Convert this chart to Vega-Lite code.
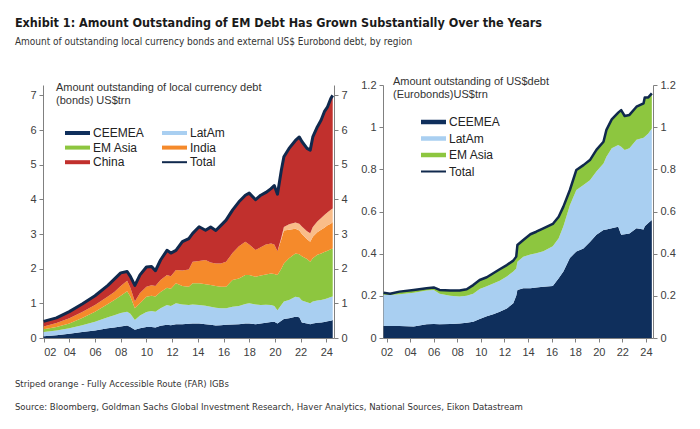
{
  "$schema": "https://vega.github.io/schema/vega-lite/v6.json",
  "padding": {"left": 14, "top": 16, "right": 10, "bottom": 5},
  "background": "white",
  "title": {
    "text": "Exhibit 1: Amount Outstanding of EM Debt Has Grown Substantially Over the Years",
    "subtitle": "Amount of outstanding local currency bonds and external US$ Eurobond debt, by region",
    "anchor": "start", "frame": "bounds", "offset": 29,
    "font": "DejaVu Sans Condensed", "fontSize": 12.5, "fontWeight": "bold", "color": "#1a1a1a",
    "subtitleFont": "DejaVu Sans Condensed", "subtitleFontSize": 10, "subtitleColor": "#333333", "subtitlePadding": 8
  },
  "datasets": {
    "lc": [
      {"d":2002.0,"CEEMEA":0.05,"LatAm":0.12,"EM Asia":0.08,"India":0.08,"FAR":0,"China":0.15},
      {"d":2003.0,"CEEMEA":0.08,"LatAm":0.14,"EM Asia":0.10,"India":0.11,"FAR":0,"China":0.15},
      {"d":2004.0,"CEEMEA":0.12,"LatAm":0.16,"EM Asia":0.14,"India":0.15,"FAR":0,"China":0.19},
      {"d":2005.0,"CEEMEA":0.17,"LatAm":0.20,"EM Asia":0.21,"India":0.17,"FAR":0,"China":0.23},
      {"d":2006.0,"CEEMEA":0.22,"LatAm":0.25,"EM Asia":0.29,"India":0.19,"FAR":0,"China":0.27},
      {"d":2007.0,"CEEMEA":0.28,"LatAm":0.32,"EM Asia":0.38,"India":0.22,"FAR":0,"China":0.32},
      {"d":2007.5,"CEEMEA":0.30,"LatAm":0.36,"EM Asia":0.44,"India":0.23,"FAR":0,"China":0.37},
      {"d":2008.0,"CEEMEA":0.33,"LatAm":0.39,"EM Asia":0.50,"India":0.28,"FAR":0,"China":0.38},
      {"d":2008.5,"CEEMEA":0.36,"LatAm":0.40,"EM Asia":0.59,"India":0.30,"FAR":0,"China":0.27},
      {"d":2008.75,"CEEMEA":0.32,"LatAm":0.38,"EM Asia":0.50,"India":0.25,"FAR":0,"China":0.33},
      {"d":2009.1,"CEEMEA":0.24,"LatAm":0.28,"EM Asia":0.34,"India":0.19,"FAR":0,"China":0.47},
      {"d":2009.5,"CEEMEA":0.28,"LatAm":0.37,"EM Asia":0.35,"India":0.30,"FAR":0,"China":0.52},
      {"d":2010.0,"CEEMEA":0.32,"LatAm":0.43,"EM Asia":0.44,"India":0.29,"FAR":0,"China":0.57},
      {"d":2010.4,"CEEMEA":0.32,"LatAm":0.46,"EM Asia":0.44,"India":0.30,"FAR":0,"China":0.54},
      {"d":2010.7,"CEEMEA":0.30,"LatAm":0.46,"EM Asia":0.44,"India":0.30,"FAR":0,"China":0.44},
      {"d":2011.1,"CEEMEA":0.35,"LatAm":0.51,"EM Asia":0.47,"India":0.34,"FAR":0,"China":0.58},
      {"d":2011.6,"CEEMEA":0.38,"LatAm":0.57,"EM Asia":0.50,"India":0.37,"FAR":0,"China":0.71},
      {"d":2011.9,"CEEMEA":0.37,"LatAm":0.55,"EM Asia":0.50,"India":0.36,"FAR":0,"China":0.67},
      {"d":2012.3,"CEEMEA":0.40,"LatAm":0.60,"EM Asia":0.58,"India":0.38,"FAR":0,"China":0.57},
      {"d":2012.8,"CEEMEA":0.40,"LatAm":0.57,"EM Asia":0.53,"India":0.45,"FAR":0,"China":0.83},
      {"d":2013.3,"CEEMEA":0.41,"LatAm":0.54,"EM Asia":0.53,"India":0.50,"FAR":0,"China":0.89},
      {"d":2013.6,"CEEMEA":0.42,"LatAm":0.55,"EM Asia":0.61,"India":0.62,"FAR":0,"China":0.82},
      {"d":2014.1,"CEEMEA":0.42,"LatAm":0.53,"EM Asia":0.63,"India":0.64,"FAR":0,"China":0.99},
      {"d":2014.6,"CEEMEA":0.40,"LatAm":0.53,"EM Asia":0.62,"India":0.70,"FAR":0,"China":0.86},
      {"d":2015.0,"CEEMEA":0.38,"LatAm":0.52,"EM Asia":0.63,"India":0.65,"FAR":0,"China":1.02},
      {"d":2015.4,"CEEMEA":0.36,"LatAm":0.51,"EM Asia":0.63,"India":0.65,"FAR":0,"China":0.95},
      {"d":2015.8,"CEEMEA":0.37,"LatAm":0.49,"EM Asia":0.62,"India":0.67,"FAR":0,"China":1.10},
      {"d":2016.2,"CEEMEA":0.38,"LatAm":0.48,"EM Asia":0.62,"India":0.72,"FAR":0,"China":1.20},
      {"d":2016.7,"CEEMEA":0.39,"LatAm":0.51,"EM Asia":0.77,"India":0.78,"FAR":0,"China":1.24},
      {"d":2017.2,"CEEMEA":0.40,"LatAm":0.52,"EM Asia":0.80,"India":0.93,"FAR":0,"China":1.28},
      {"d":2017.7,"CEEMEA":0.42,"LatAm":0.56,"EM Asia":0.84,"India":0.96,"FAR":0,"China":1.34},
      {"d":2018.0,"CEEMEA":0.42,"LatAm":0.58,"EM Asia":0.82,"India":0.88,"FAR":0,"China":1.48},
      {"d":2018.5,"CEEMEA":0.40,"LatAm":0.57,"EM Asia":0.80,"India":0.77,"FAR":0,"China":1.45},
      {"d":2018.9,"CEEMEA":0.42,"LatAm":0.53,"EM Asia":0.85,"India":0.82,"FAR":0,"China":1.50},
      {"d":2019.3,"CEEMEA":0.44,"LatAm":0.52,"EM Asia":0.87,"India":0.87,"FAR":0,"China":1.50},
      {"d":2019.7,"CEEMEA":0.46,"LatAm":0.49,"EM Asia":0.91,"India":0.87,"FAR":0,"China":1.58},
      {"d":2019.95,"CEEMEA":0.47,"LatAm":0.45,"EM Asia":0.93,"India":0.85,"FAR":0,"China":1.70},
      {"d":2020.2,"CEEMEA":0.42,"LatAm":0.38,"EM Asia":1.02,"India":0.68,"FAR":0,"China":1.65},
      {"d":2020.5,"CEEMEA":0.50,"LatAm":0.45,"EM Asia":1.05,"India":0.85,"FAR":0.05,"China":1.94},
      {"d":2020.7,"CEEMEA":0.55,"LatAm":0.50,"EM Asia":1.10,"India":0.95,"FAR":0.10,"China":2.03},
      {"d":2021.1,"CEEMEA":0.57,"LatAm":0.53,"EM Asia":1.20,"India":0.82,"FAR":0.16,"China":2.19},
      {"d":2021.6,"CEEMEA":0.61,"LatAm":0.58,"EM Asia":1.25,"India":0.71,"FAR":0.18,"China":2.37},
      {"d":2021.9,"CEEMEA":0.60,"LatAm":0.57,"EM Asia":1.25,"India":0.68,"FAR":0.20,"China":2.50},
      {"d":2022.1,"CEEMEA":0.45,"LatAm":0.63,"EM Asia":1.28,"India":0.64,"FAR":0.22,"China":2.45},
      {"d":2022.5,"CEEMEA":0.42,"LatAm":0.61,"EM Asia":1.25,"India":0.57,"FAR":0.23,"China":2.39},
      {"d":2022.75,"CEEMEA":0.40,"LatAm":0.60,"EM Asia":1.20,"India":0.58,"FAR":0.24,"China":2.40},
      {"d":2022.95,"CEEMEA":0.42,"LatAm":0.63,"EM Asia":1.25,"India":0.62,"FAR":0.28,"China":2.60},
      {"d":2023.3,"CEEMEA":0.44,"LatAm":0.64,"EM Asia":1.32,"India":0.65,"FAR":0.31,"China":2.73},
      {"d":2023.6,"CEEMEA":0.45,"LatAm":0.65,"EM Asia":1.34,"India":0.68,"FAR":0.34,"China":2.83},
      {"d":2023.85,"CEEMEA":0.46,"LatAm":0.66,"EM Asia":1.36,"India":0.70,"FAR":0.37,"China":2.98},
      {"d":2024.1,"CEEMEA":0.48,"LatAm":0.67,"EM Asia":1.37,"India":0.73,"FAR":0.38,"China":3.04},
      {"d":2024.35,"CEEMEA":0.50,"LatAm":0.68,"EM Asia":1.38,"India":0.74,"FAR":0.40,"China":3.21},
      {"d":2024.5,"CEEMEA":0.52,"LatAm":0.68,"EM Asia":1.38,"India":0.77,"FAR":0.39,"China":3.26}
    ],
    "fx": [
      {"d":2001.75,"CEEMEA":0.057,"LatAm":0.148,"EM Asia":0.010},
      {"d":2002.3,"CEEMEA":0.057,"LatAm":0.147,"EM Asia":0.006},
      {"d":2003.1,"CEEMEA":0.057,"LatAm":0.151,"EM Asia":0.012},
      {"d":2004.3,"CEEMEA":0.055,"LatAm":0.160,"EM Asia":0.013},
      {"d":2005.4,"CEEMEA":0.065,"LatAm":0.160,"EM Asia":0.011},
      {"d":2006.0,"CEEMEA":0.066,"LatAm":0.162,"EM Asia":0.012},
      {"d":2006.5,"CEEMEA":0.065,"LatAm":0.145,"EM Asia":0.018},
      {"d":2007.4,"CEEMEA":0.066,"LatAm":0.134,"EM Asia":0.025},
      {"d":2008.2,"CEEMEA":0.069,"LatAm":0.128,"EM Asia":0.028},
      {"d":2008.8,"CEEMEA":0.072,"LatAm":0.128,"EM Asia":0.031},
      {"d":2009.35,"CEEMEA":0.077,"LatAm":0.133,"EM Asia":0.041},
      {"d":2009.9,"CEEMEA":0.090,"LatAm":0.142,"EM Asia":0.043},
      {"d":2010.5,"CEEMEA":0.103,"LatAm":0.142,"EM Asia":0.043},
      {"d":2011.05,"CEEMEA":0.113,"LatAm":0.145,"EM Asia":0.049},
      {"d":2011.6,"CEEMEA":0.125,"LatAm":0.147,"EM Asia":0.054},
      {"d":2012.2,"CEEMEA":0.140,"LatAm":0.152,"EM Asia":0.054},
      {"d":2012.75,"CEEMEA":0.165,"LatAm":0.150,"EM Asia":0.052},
      {"d":2013.0,"CEEMEA":0.200,"LatAm":0.130,"EM Asia":0.056},
      {"d":2013.1,"CEEMEA":0.228,"LatAm":0.134,"EM Asia":0.079},
      {"d":2013.6,"CEEMEA":0.236,"LatAm":0.149,"EM Asia":0.080},
      {"d":2014.2,"CEEMEA":0.236,"LatAm":0.160,"EM Asia":0.096},
      {"d":2014.7,"CEEMEA":0.240,"LatAm":0.162,"EM Asia":0.102},
      {"d":2015.3,"CEEMEA":0.243,"LatAm":0.169,"EM Asia":0.108},
      {"d":2016.1,"CEEMEA":0.247,"LatAm":0.188,"EM Asia":0.106},
      {"d":2016.6,"CEEMEA":0.283,"LatAm":0.190,"EM Asia":0.102},
      {"d":2017.0,"CEEMEA":0.315,"LatAm":0.215,"EM Asia":0.093},
      {"d":2017.55,"CEEMEA":0.380,"LatAm":0.250,"EM Asia":0.072},
      {"d":2018.1,"CEEMEA":0.410,"LatAm":0.292,"EM Asia":0.095},
      {"d":2018.7,"CEEMEA":0.425,"LatAm":0.301,"EM Asia":0.094},
      {"d":2019.25,"CEEMEA":0.455,"LatAm":0.293,"EM Asia":0.096},
      {"d":2019.8,"CEEMEA":0.490,"LatAm":0.300,"EM Asia":0.102},
      {"d":2020.4,"CEEMEA":0.512,"LatAm":0.316,"EM Asia":0.103},
      {"d":2020.65,"CEEMEA":0.515,"LatAm":0.345,"EM Asia":0.127},
      {"d":2021.1,"CEEMEA":0.520,"LatAm":0.380,"EM Asia":0.137},
      {"d":2021.65,"CEEMEA":0.528,"LatAm":0.387,"EM Asia":0.154},
      {"d":2021.9,"CEEMEA":0.490,"LatAm":0.417,"EM Asia":0.174},
      {"d":2022.2,"CEEMEA":0.492,"LatAm":0.400,"EM Asia":0.161},
      {"d":2022.6,"CEEMEA":0.496,"LatAm":0.404,"EM Asia":0.158},
      {"d":2023.2,"CEEMEA":0.520,"LatAm":0.420,"EM Asia":0.157},
      {"d":2023.8,"CEEMEA":0.515,"LatAm":0.435,"EM Asia":0.163},
      {"d":2023.9,"CEEMEA":0.530,"LatAm":0.425,"EM Asia":0.186},
      {"d":2024.2,"CEEMEA":0.545,"LatAm":0.425,"EM Asia":0.171},
      {"d":2024.5,"CEEMEA":0.560,"LatAm":0.434,"EM Asia":0.166}
    ]
  },
  "vconcat": [
    {
      "title": {
        "text": ["Striped orange - Fully Accessible Route (FAR) IGBs", "Source: Bloomberg, Goldman Sachs Global Investment Research, Haver Analytics, National Sources, Eikon Datastream"],
        "orient": "bottom", "anchor": "start", "frame": "bounds", "dx": -15, "offset": 22, "lineHeight": 22.5,
        "font": "DejaVu Sans Condensed", "fontSize": 9.5, "fontWeight": "normal", "color": "#333333"
      },
      "spacing": 12,
      "resolve": {"scale": {"color": "independent", "x": "independent", "y": "independent"}, "legend": {"color": "independent"}},
      "hconcat": [
        {
          "width": 291, "height": 253,
          "data": {"name": "lc"},
          "transform": [
            {"fold": ["CEEMEA", "LatAm", "EM Asia", "India", "FAR", "China"], "as": ["series", "v"]},
            {"window": [{"op": "row_number", "as": "k"}], "groupby": ["d"]}
          ],
          "title": {
            "text": ["Amount outstanding of local currency debt", "(bonds) US$trn"],
            "anchor": "start", "frame": "group", "orient": "top", "offset": -21, "dx": 13,
            "font": "Liberation Sans", "fontSize": 11, "fontWeight": "normal", "color": "#333333", "lineHeight": 13
          },
          "layer": [
            {
              "mark": {"type": "area", "interpolate": "linear"},
              "encoding": {
                "x": {"field": "d", "type": "quantitative", "scale": {"domain": [2001.95, 2024.6], "nice": false, "zero": false},
                      "axis": {"values": [2002,2004,2006,2008,2010,2012,2014,2016,2018,2020,2022,2024], "labelExpr": "substring(toString(datum.value), 2)", "labelOverlap": false, "title": null, "grid": false}},
                "y": {"field": "v", "type": "quantitative", "stack": "zero", "scale": {"domain": [0, 7.3], "nice": false},
                      "axis": {"orient": "left", "values": [0,1,2,3,4,5,6,7], "title": null, "grid": false}},
                "order": {"field": "k", "type": "quantitative", "sort": "ascending"},
                "color": {"field": "series", "type": "nominal",
                  "scale": {"domain": ["CEEMEA", "LatAm", "EM Asia", "India", "FAR", "China", "Total"],
                            "range": ["#0f2f5c", "#a9cff1", "#8dc63f", "#f58a2b", "#f9bd8a", "#c1302d", "#10294d"]},
                  "legend": {"values": ["CEEMEA", "LatAm", "EM Asia", "India", "China", "Total"], "title": null, "orient": "none", "direction": "horizontal",
                    "legendX": 21, "legendY": 42, "columns": 2, "columnPadding": 17, "rowPadding": 2.6,
                    "symbolType": "M-1,-0.4H4V0.4H-1Z", "symbolSize": 100, "symbolStrokeWidth": 0, "symbolOpacity": 1,
                    "labelOffset": 17, "labelFont": "Liberation Sans", "labelFontSize": 12, "labelColor": "#222222",
                    "encode": {"symbols": {"update": {"shape": {"signal": "datum.value === 'Total' ? 'M-1,-0.2H4V0.2H-1Z' : 'M-1,-0.4H4V0.4H-1Z'"}}}}}
                }
              }
            },
            {
              "mark": {"type": "line", "strokeWidth": 3, "strokeJoin": "round"},
              "encoding": {
                "x": {"field": "d", "type": "quantitative",
                      "axis": {"values": [2002,2004,2006,2008,2010,2012,2014,2016,2018,2020,2022,2024], "labelExpr": "substring(toString(datum.value), 2)", "labelOverlap": false, "title": null, "grid": false}},
                "y": {"aggregate": "sum", "field": "v", "type": "quantitative",
                      "axis": {"orient": "right", "values": [0,1,2,3,4,5,6,7], "title": null, "grid": false}},
                "color": {"datum": "Total"}
              }
            }
          ]
        },
        {
          "width": 270, "height": 253,
          "data": {"name": "fx"},
          "transform": [
            {"fold": ["CEEMEA", "LatAm", "EM Asia"], "as": ["series", "v"]},
            {"window": [{"op": "row_number", "as": "k"}], "groupby": ["d"]}
          ],
          "title": {
            "text": ["Amount outstanding of US$debt", "(Eurobonds)US$trn"],
            "anchor": "start", "frame": "group", "orient": "top", "offset": -21, "dx": 10,
            "font": "Liberation Sans", "fontSize": 11, "fontWeight": "normal", "color": "#333333", "lineHeight": 13
          },
          "layer": [
            {
              "mark": {"type": "area", "interpolate": "linear"},
              "encoding": {
                "x": {"field": "d", "type": "quantitative", "scale": {"domain": [2001.7, 2024.6], "nice": false, "zero": false},
                      "axis": {"values": [2002,2004,2006,2008,2010,2012,2014,2016,2018,2020,2022,2024], "labelExpr": "substring(toString(datum.value), 2)", "labelOverlap": false, "title": null, "grid": false}},
                "y": {"field": "v", "type": "quantitative", "stack": "zero", "scale": {"domain": [0, 1.2], "nice": false},
                      "axis": {"orient": "left", "values": [0,0.2,0.4,0.6,0.8,1,1.2], "format": "~g", "title": null, "grid": false}},
                "order": {"field": "k", "type": "quantitative", "sort": "ascending"},
                "color": {"field": "series", "type": "nominal",
                  "scale": {"domain": ["CEEMEA", "LatAm", "EM Asia", "Total"],
                            "range": ["#0f2f5c", "#a9cff1", "#8dc63f", "#10294d"]},
                  "legend": {"values": ["CEEMEA", "LatAm", "EM Asia", "Total"], "title": null, "orient": "none",
                    "legendX": 37, "legendY": 31, "rowPadding": 4.5,
                    "symbolType": "M-1,-0.45H4V0.45H-1Z", "symbolSize": 100, "symbolStrokeWidth": 0, "symbolOpacity": 1,
                    "labelOffset": 17, "labelFont": "Liberation Sans", "labelFontSize": 12, "labelColor": "#222222",
                    "encode": {"symbols": {"update": {"shape": {"signal": "datum.value === 'Total' ? 'M-1,-0.2H4V0.2H-1Z' : 'M-1,-0.45H4V0.45H-1Z'"}}}}}
                }
              }
            },
            {
              "mark": {"type": "line", "strokeWidth": 2.5, "strokeJoin": "round"},
              "encoding": {
                "x": {"field": "d", "type": "quantitative",
                      "axis": {"values": [2002,2004,2006,2008,2010,2012,2014,2016,2018,2020,2022,2024], "labelExpr": "substring(toString(datum.value), 2)", "labelOverlap": false, "title": null, "grid": false}},
                "y": {"aggregate": "sum", "field": "v", "type": "quantitative",
                      "axis": {"orient": "right", "values": [0,0.2,0.4,0.6,0.8,1,1.2], "format": "~g", "title": null, "grid": false}},
                "color": {"datum": "Total"}
              }
            }
          ]
        }
      ]
    }
  ],
  "config": {
    "view": {"stroke": null},
    "axis": {"labelFont": "Liberation Sans", "labelFontSize": 11, "labelColor": "#404040", "domainColor": "#808080", "tickColor": "#808080", "tickSize": 4, "labelPadding": 3, "domainWidth": 1},
    "axisX": {"labelPadding": 4, "labelOverlap": false}
  }
}
